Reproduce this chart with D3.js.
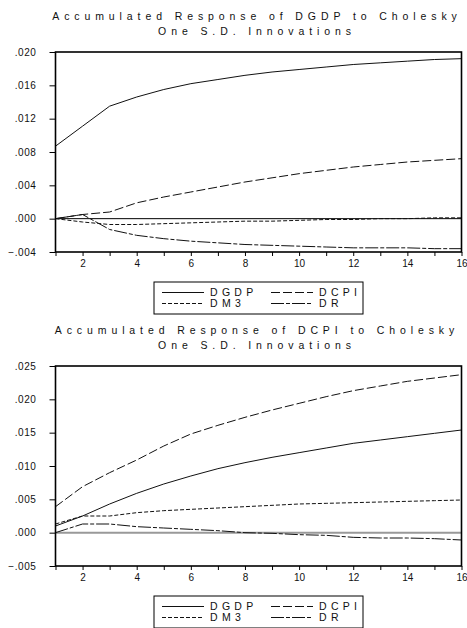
<!DOCTYPE html>
<html>
<head>
<meta charset="utf-8">
<script src="https://cdnjs.cloudflare.com/ajax/libs/d3/7.8.5/d3.min.js"></script>
<style>
  body { margin: 0; background: #fff; }
  svg { display: block; font-family: "Liberation Sans", Arial, sans-serif; }
</style>
</head>
<body>
<svg width="467" height="628"></svg>
<script>
var periods = [1, 2, 3, 4, 5, 6, 7, 8, 9, 10, 11, 12, 13, 14, 15, 16]
var seriesNames = ["DGDP", "DCPI", "DM3", "DR"]

// response of DGDP
var gdpDGDP = [.0087, .0111, .0135, .0146, .0155, .0162, .0167, .0172, .0176, .0179, .0182, .0185, .0187, .0189, .0191, .0192]
var gdpDCPI = [0, .0005, .0008, .0019, .0026, .0032, .0038, .0044, .0049, .0054, .0058, .0062, .0065, .0068, .0070, .0072]
var gdpDM3 = [0, -.0004, -.0007, -.0007, -.0006, -.0005, -.0004, -.0003, -.0003, -.0002, -.0001, -.0001, 0, 0, .0001, .0001]
var gdpDR = [0, .0005, -.0013, -.0020, -.0024, -.0027, -.0029, -.0031, -.0032, -.0033, -.0034, -.0035, -.0035, -.0035, -.0036, -.0036]

// response of DCPI
var cpiDGDP = [.0010, .0025, .0043, .0059, .0073, .0085, .0096, .0105, .0113, .0120, .0127, .0134, .0139, .0144, .0149, .0154]
var cpiDCPI = [.0039, .0069, .0090, .0109, .0130, .0148, .0161, .0173, .0184, .0194, .0204, .0213, .0220, .0227, .0232, .0237]
var cpiDM3 = [.0013, .0025, .0025, .0030, .0033, .0035, .0037, .0039, .0041, .0043, .0044, .0045, .0046, .0047, .0048, .0049]
var cpiDR = [0, .0013, .0013, .0009, .0007, .0005, .0003, 0, -.0001, -.0003, -.0004, -.0007, -.0008, -.0008, -.0009, -.0011]

var gdpTicks = [-.004, .000, .004, .008, .012, .016, .020]
var cpiTicks = [-.005, .000, .005, .010, .015, .020, .025]
var xTickLabels = [2, 4, 6, 8, 10, 12, 14, 16]

var dashes = { DGDP: null, DCPI: "9,3", DM3: "4,2", DR: "13,2,4,2" }

var svg = d3.select("svg")

function fmt(v) {
  return d3.format(".3f")(v).replace("0.", ".")
}

function drawChart(top, title, yTicks, data, zeroColor, zeroWidth) {
  var g = svg.append("g").attr("transform", "translate(0," + top + ")")

  var x = d3.scaleLinear().domain([1, 16]).range([55.5, 461.5])
  var y = d3.scaleLinear().domain([yTicks[0], yTicks[yTicks.length - 1]]).range([236, 36])

  // title
  g.selectAll(".title")
    .data(title)
    .enter()
    .append("text")
      .attr("x", 257)
      .attr("y", (d, i) => 3.5 + i * 15.5)
      .attr("text-anchor", "middle")
      .attr("font-size", 10.5)
      .attr("letter-spacing", "4.9px")
      .attr("fill", "#111")
      .text(d => d)

  // zero line
  g.append("line")
    .attr("x1", x(1)).attr("x2", x(16))
    .attr("y1", y(0)).attr("y2", y(0))
    .attr("stroke", zeroColor)
    .attr("stroke-width", zeroWidth)

  // series
  var line = d3.line().x((d, i) => x(periods[i])).y(d => y(d))
  seriesNames.forEach(function (name, k) {
    g.append("path")
      .attr("d", line(data[k]))
      .attr("fill", "none")
      .attr("stroke", "#111")
      .attr("stroke-width", 1)
      .attr("stroke-dasharray", dashes[name])
  })

  // frame
  g.append("rect")
    .attr("x", x(1)).attr("y", y.range()[1])
    .attr("width", x(16) - x(1))
    .attr("height", y.range()[0] - y.range()[1])
    .attr("fill", "none")
    .attr("stroke", "#000")
    .attr("stroke-width", 1.6)

  // y axis
  var yAxis = d3.axisLeft(y).tickValues(yTicks).tickSize(6).tickPadding(13).tickFormat(fmt)
  var ya = g.append("g").attr("transform", "translate(" + x(1) + ",0)").call(yAxis)
  ya.select(".domain").remove()
  ya.selectAll("line").attr("stroke", "#000")
  ya.selectAll("text")
    .attr("font-size", 10)
    .attr("font-family", "Liberation Sans, Arial, sans-serif")
    .attr("letter-spacing", "0.6px")
    .attr("fill", "#111")

  // x axis
  var xAxis = d3.axisBottom(x).tickValues(periods).tickSize(4).tickPadding(4)
    .tickFormat(d => xTickLabels.indexOf(d) >= 0 ? d : "")
  var xa = g.append("g").attr("transform", "translate(0," + y.range()[0] + ")").call(xAxis)
  xa.select(".domain").remove()
  xa.selectAll("line").attr("stroke", "#000")
  xa.selectAll("text")
    .attr("font-size", 10)
    .attr("font-family", "Liberation Sans, Arial, sans-serif")
    .attr("fill", "#111")

  // legend
  var lg = g.append("g").attr("transform", "translate(154,266)")
  lg.append("rect")
    .attr("x", 0).attr("y", 0)
    .attr("width", 209).attr("height", 32)
    .attr("fill", "none")
    .attr("stroke", "#000")
    .attr("stroke-width", 1)
  var pos = [[8, 10.5], [117, 10.5], [8, 21.5], [117, 21.5]]
  seriesNames.forEach(function (name, k) {
    var p = pos[k]
    lg.append("line")
      .attr("x1", p[0]).attr("x2", p[0] + 42)
      .attr("y1", p[1]).attr("y2", p[1])
      .attr("stroke", "#111")
      .attr("stroke-width", 1)
      .attr("stroke-dasharray", dashes[name])
    lg.append("text")
      .attr("x", p[0] + 48)
      .attr("y", p[1] + 3.6)
      .attr("font-size", 10.5)
      .attr("letter-spacing", "4.3px")
      .attr("fill", "#111")
      .text(name)
  })
}

drawChart(16, ["Accumulated Response of DGDP to Cholesky", "One S.D. Innovations"], gdpTicks,
  [gdpDGDP, gdpDCPI, gdpDM3, gdpDR], "#000", 1)
drawChart(330, ["Accumulated Response of DCPI to Cholesky", "One S.D. Innovations"], cpiTicks,
  [cpiDGDP, cpiDCPI, cpiDM3, cpiDR], "#999", 2)
</script>
</body>
</html>
